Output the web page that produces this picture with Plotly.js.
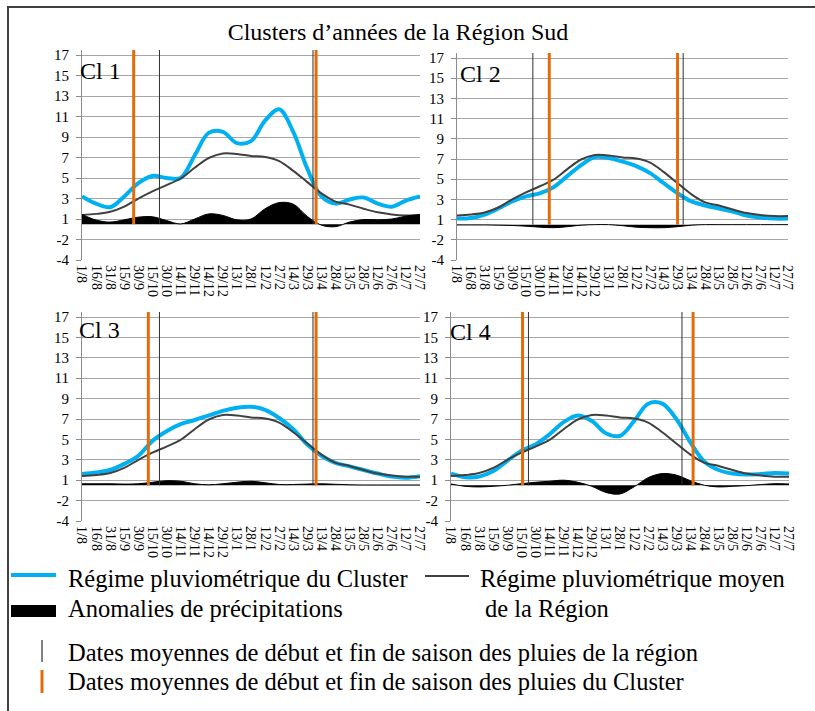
<!DOCTYPE html>
<html><head><meta charset="utf-8">
<script src="https://cdn.plot.ly/plotly-3.0.1.min.js"></script>
<style>body{margin:0;background:#fff}#c{width:815px;height:711px}</style>
</head><body><div id="c"></div>
<script>
// ---------- DATA ----------
const categories = ['1/8','16/8','31/8','15/9','30/9','15/10','30/10','14/11','29/11','14/12','29/12','13/1','28/1','12/2','27/2','14/3','29/3','13/4','28/4','13/5','28/5','12/6','27/6','12/7','27/7'];
const yTickVals = [17,15,13,11,9,7,5,3,1,-1,-3];
const yTickText = ['17','15','13','11','9','7','5','3','1','-2','-4'];
const clusterNames = ['Cl 1','Cl 2','Cl 3','Cl 4'];

// Régime pluviométrique moyen de la Région
const regionMean = [1.4,1.5,1.7,2.2,3.0,3.7,4.3,4.95,6.0,6.95,7.4,7.35,7.15,7.05,6.65,5.7,4.6,3.5,2.7,2.4,2.0,1.65,1.45,1.35,1.35];

// Régime pluviométrique du Cluster
const cluster1 = [3.2,2.5,2.15,3.2,4.5,5.2,5.0,5.0,7.2,9.4,9.5,8.4,8.6,10.6,11.7,9.5,5.9,3.2,2.5,2.9,3.1,2.5,2.2,2.8,3.2];
const cluster2 = [1.1,1.15,1.5,2.1,2.8,3.3,3.6,4.2,5.3,6.4,7.2,7.1,6.75,6.3,5.6,4.6,3.6,2.8,2.4,2.1,1.8,1.4,1.2,1.1,1.1];
const cluster3 = [1.6,1.75,2.0,2.6,3.4,4.85,5.8,6.5,6.9,7.35,7.8,8.1,8.2,7.9,7.1,6.0,4.5,3.4,2.7,2.35,2.0,1.65,1.35,1.25,1.4];
const cluster4 = [1.65,1.3,1.35,1.9,2.9,3.9,4.5,5.5,6.7,7.35,6.8,5.6,5.35,6.8,8.5,8.5,7.0,4.7,2.8,2.0,1.65,1.55,1.6,1.7,1.65];

// Anomalies de précipitations
const anomaly1 = [0.95,0.4,0.2,0.42,0.68,0.72,0.35,0.02,0.5,1.0,0.85,0.42,0.5,1.5,2.1,1.95,0.75,-0.1,-0.25,0.2,0.45,0.42,0.5,0.78,0.95];
const anomaly2 = [-0.03,-0.03,-0.03,-0.05,-0.08,-0.15,-0.25,-0.3,-0.2,-0.05,0,0,-0.1,-0.25,-0.3,-0.3,-0.2,-0.05,0,0,0,0,0,0,0];
const anomaly3 = [0.15,0.15,0.15,0.12,0.15,0.3,0.45,0.4,0.15,0.05,0.15,0.3,0.4,0.25,0.08,0.08,0.12,0.15,0.1,0.05,0.03,0.03,0.03,0.03,0.03];
const anomaly4 = [0.13,-0.1,-0.16,-0.1,0,0.16,0.3,0.4,0.5,0.3,-0.1,-0.7,-0.85,-0.15,0.75,1.15,1.0,0.45,0,-0.16,-0.1,-0.03,0.07,0.16,0.13];

// Dates moyennes de début et fin de saison (position on the date axis, in category steps)
const regionSeason = [5.5,16.4];
const clusterSeason1 = [3.67,16.62];
const clusterSeason2 = [6.69,15.99];
const clusterSeason3 = [4.71,16.62];
const clusterSeason4 = [5.08,17.19];

const clusters = [cluster1,cluster2,cluster3,cluster4];
const anomalies = [anomaly1,anomaly2,anomaly3,anomaly4];
const clusterSeasons = [clusterSeason1,clusterSeason2,clusterSeason3,clusterSeason4];

// ---------- STYLE / LAYOUT ----------
const W = 815, H = 711;
const SERIF = 'Liberation Serif';
const BLUE = '#00B0F0', GREY = '#404040', ORANGE = '#E36C0A';
const yMin = -3, yMax = 17.5, baseline = 0.5;
// pixel boxes of the 4 plots (left, right, y of "17" gridline, y of bottom gridline)
const boxes = [
  {l:82, r:420, t17:55, b:260, lab:[78,71]},
  {l:457, r:788, t17:58, b:260, lab:[458,74]},
  {l:82, r:420, t17:317, b:521, lab:[77,330]},
  {l:451, r:789, t17:317, b:521, lab:[448,332]}
];
const px = x => x / W, py = y => 1 - y / H;

const traces = [];
const layout = {
  width: W, height: H, margin: {l:0,r:0,t:0,b:0},
  paper_bgcolor: '#fff', plot_bgcolor: '#fff', showlegend: false,
  font: {family: SERIF, color: '#000'},
  title: {text: 'Clusters d’années de la Région Sud', font: {family: SERIF, size: 24, color: '#000'},
          x: px(398), xanchor: 'center', xref: 'paper', y: py(32), yanchor: 'middle', yref: 'paper'},
  shapes: [], annotations: []
};

boxes.forEach((b, k) => {
  const n = k + 1, m = k + 5;
  const ppu = (b.b - b.t17) / (17 - yMin);
  const topPx = b.t17 - (yMax - 17) * ppu;
  const yDom = [py(b.b), py(topPx)];
  const xDom = [px(b.l), px(b.r)];
  const basePos = yDom[0] + (baseline - yMin) / (yMax - yMin) * (yDom[1] - yDom[0]);
  const xs = n === 1 ? '' : n, ys = n === 1 ? '' : n;

  layout['xaxis' + xs] = {domain: xDom, anchor: 'y' + ys, type: 'category', range: [0, categories.length - 1],
    tickmode: 'array', tickvals: categories, ticktext: categories,
    tickangle: 90, showgrid: false, showline: false, zeroline: false, ticks: '',
    tickfont: {family: SERIF, size: 14, color: '#000'}, ticklabelstandoff: 4, fixedrange: true};
  layout['yaxis' + ys] = {domain: yDom, anchor: 'x' + xs, range: [yMin, yMax],
    tickmode: 'array', tickvals: yTickVals, ticktext: yTickText,
    showgrid: true, gridcolor: '#a6a6a6', gridwidth: 1, zeroline: false,
    showline: true, linecolor: '#8c8c8c', linewidth: 1, ticks: 'outside', ticklen: 5, tickcolor: '#8c8c8c',
    tickfont: {family: SERIF, size: 15, color: '#000'}, ticklabelstandoff: 4, fixedrange: true};
  // secondary axis for anomalies (zero placed on the category axis line)
  layout['yaxis' + m] = {overlaying: 'y' + ys, range: [yMin - baseline, yMax - baseline], visible: false, fixedrange: true};
  // category axis line with tick marks, crossing at anomaly zero
  layout['xaxis' + m] = {overlaying: 'x' + xs, anchor: 'free', position: basePos, range: [0, categories.length - 1],
    type: 'linear', tickmode: 'linear', tick0: 0, dtick: 0.5, ticks: 'outside', ticklen: 4, tickcolor: '#404040',
    showline: true, linecolor: '#404040', linewidth: 1, showticklabels: false, showgrid: false, zeroline: false, fixedrange: true};

  traces.push({type: 'scatter', mode: 'lines', x: categories, y: anomalies[k], xaxis: 'x' + xs, yaxis: 'y' + m,
    fill: 'tozeroy', fillcolor: '#000', line: {color: '#000', width: 1, shape: 'spline', smoothing: 1}, hoverinfo: 'skip'});
  traces.push({type: 'scatter', mode: 'lines', x: categories, y: clusters[k], xaxis: 'x' + xs, yaxis: 'y' + ys,
    line: {color: BLUE, width: 4, shape: 'spline', smoothing: 1}});
  traces.push({type: 'scatter', mode: 'lines', x: categories, y: regionMean, xaxis: 'x' + xs, yaxis: 'y' + ys,
    line: {color: GREY, width: 2, shape: 'spline', smoothing: 1}});

  regionSeason.forEach(d => layout.shapes.push({type: 'line', xref: 'x' + xs, yref: 'y' + ys, x0: d, x1: d,
    y0: baseline, y1: yMax, line: {color: '#303030', width: 1}, layer: 'above'}));
  clusterSeasons[k].forEach(d => layout.shapes.push({type: 'line', xref: 'x' + xs, yref: 'y' + ys, x0: d, x1: d,
    y0: baseline, y1: yMax, line: {color: ORANGE, width: 3}, layer: 'above'}));

  layout.annotations.push({text: clusterNames[k], xref: 'paper', yref: 'paper', x: px(b.lab[0]), y: py(b.lab[1]),
    xanchor: 'left', yanchor: 'middle', showarrow: false, font: {family: SERIF, size: 24, color: '#000'}});
});

// frame
layout.shapes.push({type: 'rect', xref: 'paper', yref: 'paper', x0: px(8), x1: px(830), y0: py(7), y1: py(730),
  line: {color: '#404040', width: 2}, fillcolor: 'rgba(0,0,0,0)', layer: 'below'});

// legend
const LEG = 24.5;
const legText = (t, x, y) => layout.annotations.push({text: t, xref: 'paper', yref: 'paper', x: px(x), y: py(y),
  xanchor: 'left', yanchor: 'middle', showarrow: false, font: {family: SERIF, size: LEG, color: '#000'}});
layout.shapes.push({type: 'line', xref: 'paper', yref: 'paper', x0: px(11), x1: px(56), y0: py(575), y1: py(575), line: {color: BLUE, width: 4}});
layout.shapes.push({type: 'line', xref: 'paper', yref: 'paper', x0: px(425), x1: px(469), y0: py(576), y1: py(576), line: {color: GREY, width: 2}});
layout.shapes.push({type: 'rect', xref: 'paper', yref: 'paper', x0: px(11), x1: px(56), y0: py(605), y1: py(617), line: {width: 0}, fillcolor: '#000'});
layout.shapes.push({type: 'line', xref: 'paper', yref: 'paper', x0: px(42), x1: px(42), y0: py(640), y1: py(662), line: {color: '#000', width: 1}});
layout.shapes.push({type: 'line', xref: 'paper', yref: 'paper', x0: px(42), x1: px(42), y0: py(670), y1: py(693), line: {color: ORANGE, width: 3}});
legText('Régime pluviométrique du Cluster', 66, 578);
legText('Régime pluviométrique moyen', 478, 578);
legText('de la Région', 483, 608);
legText('Anomalies de précipitations', 66, 608);
legText('Dates moyennes de début et fin de saison des pluies de la région', 66, 652);
legText('Dates moyennes de début et fin de saison des pluies du Cluster', 66, 681);

Plotly.newPlot('c', traces, layout, {staticPlot: true, displayModeBar: false});
</script></body></html>
